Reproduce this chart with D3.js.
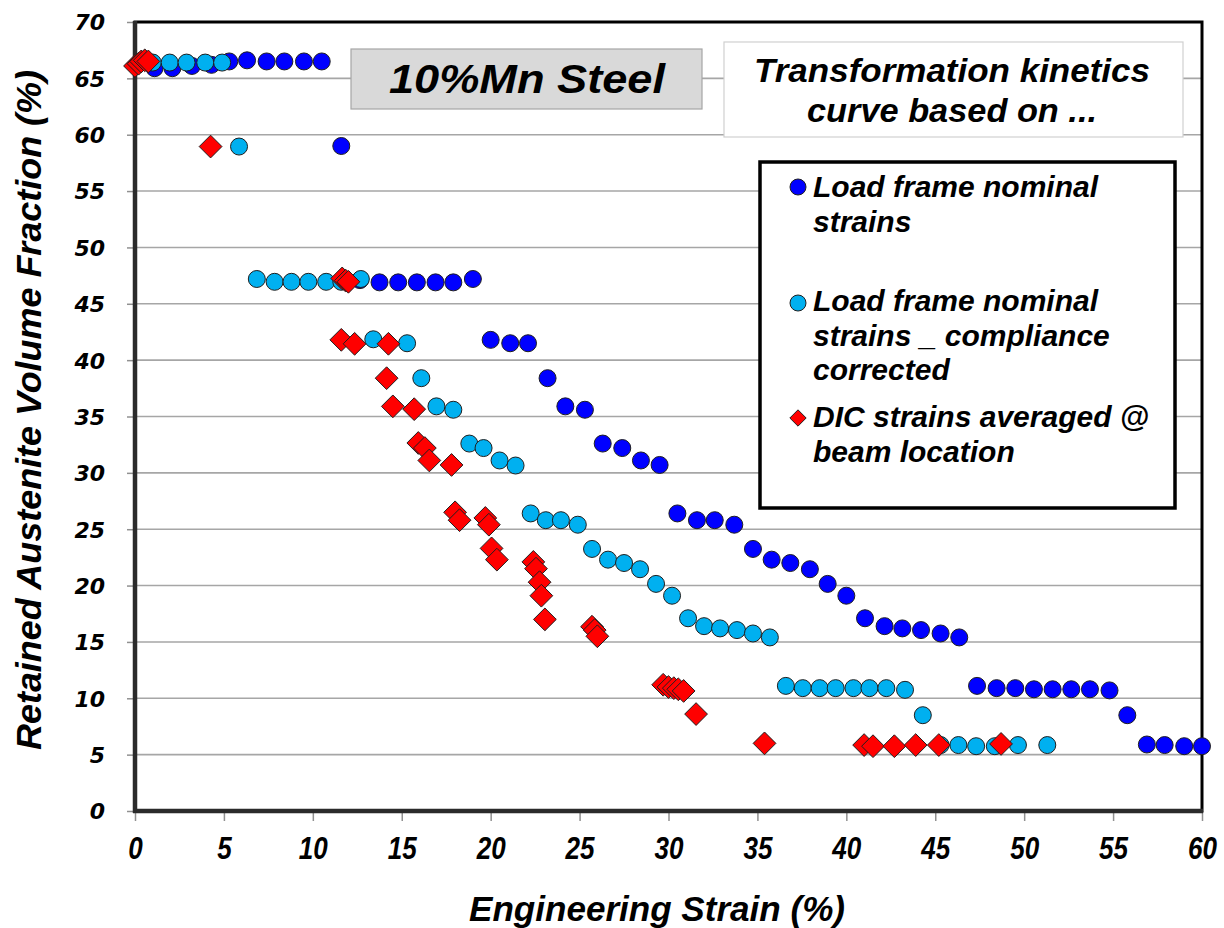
<!DOCTYPE html>
<html>
<head>
<meta charset="utf-8">
<script src="https://cdn.jsdelivr.net/npm/d3@7/dist/d3.min.js"></script>
<style>
  html, body { margin: 0; padding: 0; background: #ffffff; }
  svg { display: block; }
</style>
</head>
<body>
<svg id="chart" width="1224" height="928"></svg>
<script>
// Retained austenite volume fraction (%) versus engineering strain (%)
// for a 10%Mn steel, three strain measurement bases.

// Load frame nominal strains
const nominalStrain = [1.1, 2.1, 3.2, 4.3, 5.3, 6.3, 7.4, 8.4, 9.5, 10.5,
  11.6,
  12.65, 13.75, 14.8, 15.85, 16.9, 17.9, 19.0,
  20.0, 21.1, 22.1,
  23.2, 24.2, 25.3,
  26.3, 27.4, 28.45, 29.5,
  30.5, 31.6, 32.6, 33.7,
  34.75, 35.8, 36.85, 37.95, 38.95, 40.0,
  41.05, 42.15, 43.15, 44.2, 45.3, 46.35,
  47.35, 48.45, 49.5, 50.55, 51.6, 52.65, 53.7, 54.8,
  55.8,
  56.9, 57.9, 59.0, 60.0];
const nominalRA = [65.9, 65.9, 66.1, 66.2, 66.5, 66.6, 66.5, 66.5, 66.5, 66.5,
  59.0,
  47.1, 46.9, 46.9, 46.9, 46.9, 46.9, 47.2,
  41.8, 41.5, 41.5,
  38.4, 35.9, 35.6,
  32.6, 32.2, 31.1, 30.7,
  26.4, 25.8, 25.8, 25.4,
  23.25, 22.3, 22.0, 21.45, 20.15, 19.1,
  17.1, 16.4, 16.2, 16.05, 15.75, 15.4,
  11.1, 10.9, 10.9, 10.8, 10.8, 10.8, 10.8, 10.7,
  8.5,
  5.9, 5.85, 5.75, 5.75];

// Load frame nominal strains, compliance corrected
const correctedStrain = [0.5, 1.0, 1.95, 2.9, 3.95, 4.9,
  5.85,
  6.85, 7.85, 8.8, 9.75, 10.75, 11.6, 12.7,
  13.4, 15.3,
  16.1,
  16.95, 17.9,
  18.8, 19.6, 20.5, 21.4,
  22.25, 23.1, 23.95, 24.9,
  25.7, 26.6, 27.5, 28.4, 29.3, 30.2,
  31.1, 32.0, 32.9, 33.85, 34.75, 35.7,
  36.6, 37.55, 38.5, 39.4, 40.4, 41.3, 42.25, 43.3,
  44.3,
  45.3, 46.3, 47.3, 48.35, 49.65, 51.3];
const correctedRA = [66.5, 66.4, 66.4, 66.4, 66.4, 66.4,
  58.95,
  47.2, 46.95, 46.95, 46.95, 46.95, 46.95, 47.2,
  41.85, 41.5,
  38.4,
  35.9, 35.6,
  32.6, 32.2, 31.1, 30.65,
  26.4, 25.8, 25.8, 25.4,
  23.25, 22.3, 22.0, 21.45, 20.15, 19.1,
  17.1, 16.4, 16.2, 16.05, 15.75, 15.4,
  11.1, 10.9, 10.9, 10.9, 10.9, 10.9, 10.9, 10.75,
  8.5,
  5.85, 5.85, 5.75, 5.75, 5.85, 5.85];

// DIC strains averaged at the beam location
const dicStrain = [0.0, 0.2, 0.35, 0.55, 0.75,
  4.25,
  11.65, 11.85, 12.0,
  11.6, 12.35, 14.25,
  14.15,
  14.5, 15.7,
  15.93, 16.3, 16.55, 17.8,
  18.0, 18.25, 19.7, 19.9,
  20.05, 20.35,
  22.4, 22.55, 22.75, 22.85, 23.05,
  25.7, 25.85, 26.0,
  29.7, 30.0, 30.3, 30.55, 30.85,
  31.55,
  35.4,
  41.0, 41.5, 42.7, 43.9, 45.2, 48.7];
const dicRA = [66.1, 66.3, 66.5, 66.6, 66.5,
  58.95,
  47.25, 47.05, 46.95,
  41.8, 41.45, 41.45,
  38.4,
  35.9, 35.65,
  32.65, 32.2, 31.1, 30.7,
  26.5, 25.8, 26.0, 25.4,
  23.3, 22.3,
  22.1, 21.5, 20.3, 19.1, 17.0,
  16.35, 16.05, 15.5,
  11.2, 11.0, 10.9, 10.8, 10.65,
  8.6,
  6.0,
  5.85, 5.75, 5.75, 5.85, 5.85, 5.95];

const xTicks = [0, 5, 10, 15, 20, 25, 30, 35, 40, 45, 50, 55, 60];
const yTicks = [0, 5, 10, 15, 20, 25, 30, 35, 40, 45, 50, 55, 60, 65, 70];

const seriesNames = [
  ["Load frame nominal", "strains"],
  ["Load frame nominal", "strains _ compliance", "corrected"],
  ["DIC strains averaged @", "beam location"]
];
const seriesColors = ["#0000ff", "#00b0f0", "#ff0000"];
const chartTitle = "10%Mn Steel";
const noteLines = ["Transformation kinetics", "curve based on ..."];
const xTitle = "Engineering Strain (%)";
const yTitle = "Retained Austenite Volume Fraction (%)";

const svg = d3.select("#chart");
const plotLeft = 135, plotRight = 1202, plotTop = 22, plotBottom = 811;
const x = d3.scaleLinear().domain([0, 60]).range([plotLeft, plotRight]);
const y = d3.scaleLinear().domain([0, 70]).range([plotBottom, plotTop]);

const font = "'Liberation Sans', Arial, sans-serif";

// horizontal gridlines
svg.append("g")
  .selectAll("line")
  .data(yTicks.filter(v => v > 0 && v < 70))
  .join("line")
  .attr("x1", plotLeft).attr("x2", plotRight)
  .attr("y1", d => y(d)).attr("y2", d => y(d))
  .attr("stroke", "#a6a6a6").attr("stroke-width", 1.6);

// y axis ticks + labels
const yAxis = svg.append("g")
  .attr("transform", `translate(${plotLeft},0)`)
  .call(d3.axisLeft(y).tickValues(yTicks).tickSize(8).tickPadding(22).tickFormat(d3.format("d")));
yAxis.select(".domain").remove();
yAxis.selectAll(".tick line").attr("stroke", "#909090").attr("stroke-width", 1.5);
yAxis.selectAll(".tick text")
  .attr("fill", "#000")
  .attr("dy", "0.36em")
  .style("font-family", "'DejaVu Sans', Verdana, sans-serif")
  .style("font-weight", "bold")
  .style("font-style", "oblique")
  .style("font-size", "22px");

// x axis ticks + labels
const xAxis = svg.append("g")
  .attr("transform", `translate(0,${plotBottom})`)
  .call(d3.axisBottom(x).tickValues(xTicks).tickSize(10).tickPadding(14).tickFormat(d3.format("d")));
xAxis.select(".domain").remove();
xAxis.selectAll(".tick line").attr("stroke", "#909090").attr("stroke-width", 1.5);
xAxis.selectAll(".tick text")
  .attr("fill", "#000")
  .attr("y", 48).attr("dy", null)
  .style("font-family", font)
  .style("font-weight", "bold")
  .style("font-style", "italic")
  .style("font-size", "32px")
  .attr("textLength", d => String(d).length * 14.5)
  .attr("lengthAdjust", "spacingAndGlyphs");

// plot frame
svg.append("rect")
  .attr("x", plotLeft).attr("y", plotTop)
  .attr("width", plotRight - plotLeft).attr("height", plotBottom - plotTop)
  .attr("fill", "none").attr("stroke", "#000").attr("stroke-width", 3);
svg.append("line").attr("x1", plotLeft).attr("x2", plotLeft).attr("y1", plotTop - 1).attr("y2", plotBottom + 2)
  .attr("stroke", "#2b2b2b").attr("stroke-width", 4.5);
svg.append("line").attr("x1", plotLeft - 2).attr("x2", plotRight + 1).attr("y1", plotBottom).attr("y2", plotBottom)
  .attr("stroke", "#2b2b2b").attr("stroke-width", 4.5);

// chart title box
svg.append("rect")
  .attr("x", 351).attr("y", 49).attr("width", 351).attr("height", 60)
  .attr("fill", "#d9d9d9").attr("stroke", "#a6a6a6").attr("stroke-width", 1.2);
svg.append("text")
  .attr("x", 527).attr("y", 93).attr("text-anchor", "middle")
  .style("font-family", font).style("font-weight", "bold").style("font-style", "italic")
  .style("font-size", "41px")
  .attr("textLength", 276).attr("lengthAdjust", "spacingAndGlyphs")
  .text(chartTitle);

// note box
svg.append("rect")
  .attr("x", 724).attr("y", 42).attr("width", 459).attr("height", 95)
  .attr("fill", "#ffffff").attr("stroke", "#d0d0d0").attr("stroke-width", 1.2);
const noteWidths = [396, 290];
svg.append("g").selectAll("text")
  .data(noteLines)
  .join("text")
  .attr("x", 952).attr("y", (d, i) => 82 + i * 40).attr("text-anchor", "middle")
  .style("font-family", font).style("font-weight", "bold").style("font-style", "italic")
  .style("font-size", "34px")
  .attr("textLength", (d, i) => noteWidths[i]).attr("lengthAdjust", "spacingAndGlyphs")
  .text(d => d);

// markers
const circleR = 8.5;
const diamond = d3.symbol().type(d3.symbolDiamond2).size(330);

function circles(xs, ys, color) {
  svg.append("g").selectAll("circle")
    .data(d3.zip(xs, ys))
    .join("circle")
    .attr("cx", d => x(d[0])).attr("cy", d => y(d[1]))
    .attr("r", circleR)
    .attr("fill", color).attr("stroke", "#1f1f1f").attr("stroke-width", 1);
}
circles(nominalStrain, nominalRA, seriesColors[0]);
circles(correctedStrain, correctedRA, seriesColors[1]);

svg.append("g").selectAll("path")
  .data(d3.zip(dicStrain, dicRA))
  .join("path")
  .attr("d", diamond)
  .attr("transform", d => `translate(${x(d[0])},${y(d[1])})`)
  .attr("fill", seriesColors[2]).attr("stroke", "#1f1f1f").attr("stroke-width", 1);

// legend
const legend = svg.append("g");
legend.append("rect")
  .attr("x", 760).attr("y", 162).attr("width", 415).attr("height", 346)
  .attr("fill", "#ffffff").attr("stroke", "#000").attr("stroke-width", 3.5);
const legendTop = [197, 311, 427];
const legendMarkerY = [187, 303, 418];
seriesNames.forEach((lines, i) => {
  if (i < 2) {
    legend.append("circle").attr("cx", 798).attr("cy", legendMarkerY[i]).attr("r", 8)
      .attr("fill", seriesColors[i]).attr("stroke", "#1f1f1f").attr("stroke-width", 1);
  } else {
    legend.append("path").attr("d", d3.symbol().type(d3.symbolDiamond2).size(170))
      .attr("transform", `translate(798,${legendMarkerY[i]})`)
      .attr("fill", seriesColors[i]).attr("stroke", "#1f1f1f").attr("stroke-width", 1);
  }
  legend.append("g").selectAll("text")
    .data(lines)
    .join("text")
    .attr("x", 813).attr("y", (d, j) => legendTop[i] + j * 34.5)
    .style("font-family", font).style("font-weight", "bold").style("font-style", "italic")
    .style("font-size", "30px")
    .text(d => d);
});

// axis titles
svg.append("text")
  .attr("x", 657).attr("y", 921).attr("text-anchor", "middle")
  .style("font-family", font).style("font-weight", "bold").style("font-style", "italic")
  .style("font-size", "35px")
  .attr("textLength", 376).attr("lengthAdjust", "spacingAndGlyphs")
  .text(xTitle);
svg.append("text")
  .attr("transform", "translate(41,410) rotate(-90)")
  .attr("text-anchor", "middle")
  .style("font-family", font).style("font-weight", "bold").style("font-style", "italic")
  .style("font-size", "35px")
  .attr("textLength", 680).attr("lengthAdjust", "spacingAndGlyphs")
  .text(yTitle);
</script>
</body>
</html>
